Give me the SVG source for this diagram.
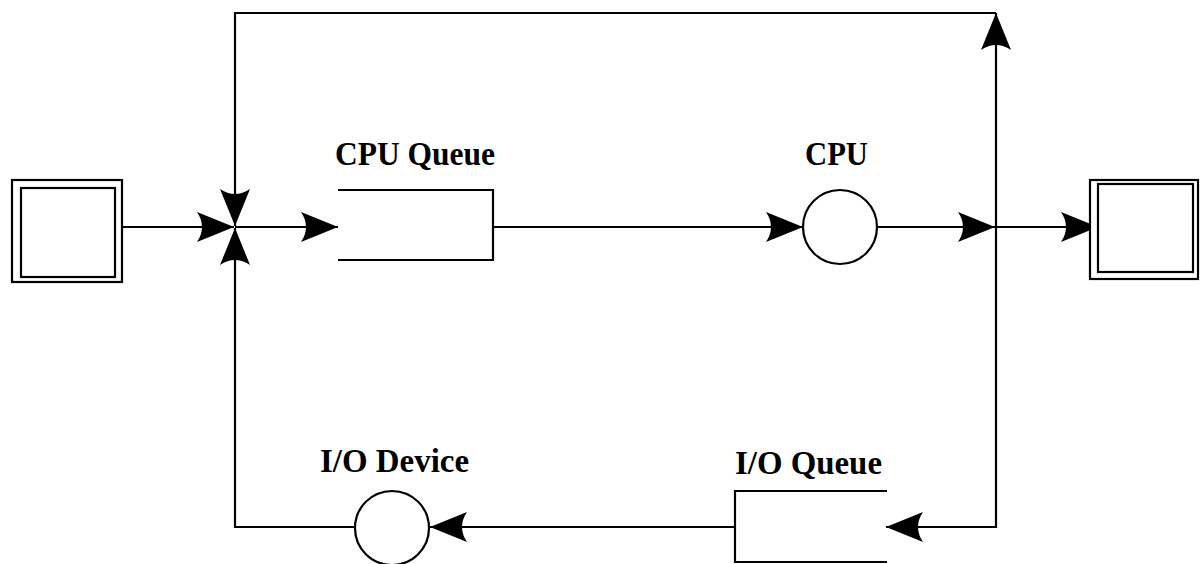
<svg xmlns="http://www.w3.org/2000/svg" width="1200" height="564" viewBox="0 0 1200 564">
<style>
.ln{fill:none;stroke:#000;stroke-width:2.2}
.nd{fill:#fff;stroke:#000;stroke-width:2.2}
.lbl{font-family:"Liberation Serif","Times New Roman",serif;font-weight:bold;font-size:33px;fill:#000}
</style>
<defs>
<marker id="arr" markerUnits="userSpaceOnUse" markerWidth="42" markerHeight="34" viewBox="-40 -17 42 34" refX="0" refY="0" orient="auto">
<path d="M0,0 L-37,-15 Q-27,0 -37,15 Z" fill="#000"/>
</marker>
</defs>
<rect width="1200" height="564" fill="#fff"/>
<g id="connectors">
<path class="ln" d="M122,227 H234" marker-end="url(#arr)"/>
<path class="ln" d="M235,227 H338" marker-end="url(#arr)"/>
<path class="ln" d="M493,227 H803" marker-end="url(#arr)"/>
<path class="ln" d="M877,227 H995" marker-end="url(#arr)"/>
<path class="ln" d="M995,227 H1098" marker-end="url(#arr)"/>
<path class="ln" d="M996,227 V13" marker-end="url(#arr)"/>
<path class="ln" d="M996,13 H235 V226" marker-end="url(#arr)"/>
<path class="ln" d="M996,227 V527 H886" marker-end="url(#arr)"/>
<path class="ln" d="M735,527 H430" marker-end="url(#arr)"/>
<path class="ln" d="M355,527 H235 V228" marker-end="url(#arr)"/>
</g>
<g id="source">
<rect class="nd" x="12" y="180" width="110" height="102"/>
<rect class="nd" x="21" y="188" width="94" height="89"/>
</g>
<g id="cpu-queue">
<rect x="338" y="190" width="155" height="70" fill="#fff"/>
<path class="ln" d="M338,190 H493 V260 H338"/>
<text class="lbl" x="335" y="165" textLength="160" lengthAdjust="spacingAndGlyphs">CPU Queue</text>
</g>
<g id="cpu">
<circle class="nd" cx="840" cy="227" r="37"/>
<text class="lbl" x="805" y="165" textLength="63" lengthAdjust="spacingAndGlyphs">CPU</text>
</g>
<g id="sink">
<rect class="nd" x="1090" y="180" width="108" height="99"/>
<rect class="nd" x="1098" y="184" width="95" height="88"/>
</g>
<g id="io-queue">
<path class="ln" d="M887,491 H735 V562 H887"/>
<text class="lbl" x="735" y="474" textLength="147" lengthAdjust="spacingAndGlyphs">I/O Queue</text>
</g>
<g id="io-device">
<circle class="nd" cx="392" cy="528" r="37"/>
<text class="lbl" x="320" y="472" textLength="149" lengthAdjust="spacingAndGlyphs">I/O Device</text>
</g>
</svg>
